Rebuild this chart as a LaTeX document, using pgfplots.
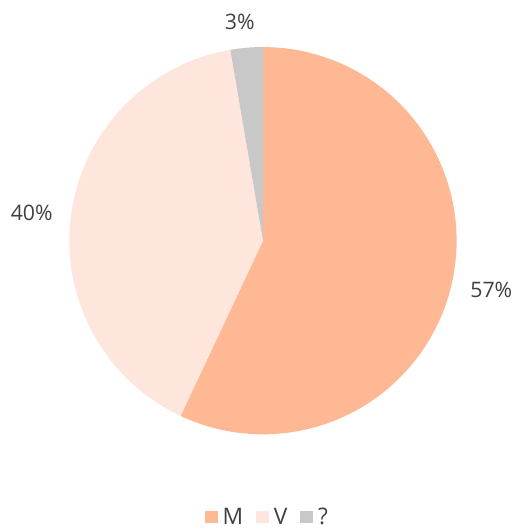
\documentclass[border=0pt]{standalone}
\usepackage{fontspec}
\setmainfont{Open Sans}
\usepackage{pgfplots}
\pgfplotsset{compat=1.18}
\definecolor{cM}{HTML}{FFB894}
\definecolor{cV}{HTML}{FFE6DC}
\definecolor{cQ}{HTML}{C8C8C8}
\definecolor{txt}{HTML}{404040}
\begin{document}
\begin{tikzpicture}
% shares in percent
\def\vM{57.0}\def\vV{40.3}\def\vQ{2.7}
\pgfmathsetmacro\aA{90}
\pgfmathsetmacro\aB{\aA-3.6*\vM}
\pgfmathsetmacro\aC{\aB-3.6*\vV}
\pgfmathsetmacro\aD{\aC-3.6*\vQ}
\begin{axis}[
  scale only axis, width=519pt, height=530pt,
  xmin=0, xmax=519, ymin=0, ymax=530,
  axis lines=none, clip=false,
  legend columns=3,
  legend style={at={(axis cs:270,8)}, anchor=center, draw=none, fill=none,
    font=\fontsize{23}{25}\selectfont, text=txt,
    /tikz/every even column/.append style={column sep=11pt}},
  legend image code/.code={\fill[#1] (0pt,-6.5pt) rectangle (13pt,6.5pt); \path (16pt,0pt);},
]
\path (rel axis cs:0,0) rectangle (rel axis cs:1,1);
\addplot[fill=cM, draw=none, domain=\aB:\aA, samples=120] ({265.5+195.5*cos(x)},{287+195.5*sin(x)}) -- (axis cs:265.5,287) -- cycle;
\addlegendentry{M}
\addplot[fill=cV, draw=none, domain=\aC:\aB, samples=100] ({265.5+195.5*cos(x)},{287+195.5*sin(x)}) -- (axis cs:265.5,287) -- cycle;
\addlegendentry{V}
\addplot[fill=cQ, draw=none, domain=\aD:\aC, samples=20] ({265.5+195.5*cos(x)},{287+195.5*sin(x)}) -- (axis cs:265.5,287) -- cycle;
\addlegendentry{?}
\node[text=txt, font=\fontsize{21.5}{23}\selectfont] at (axis cs:496,237) {57\%};
\node[text=txt, font=\fontsize{21.5}{23}\selectfont] at (axis cs:32,315) {40\%};
\node[text=txt, font=\fontsize{21.5}{23}\selectfont] at (axis cs:242,508) {3\%};
\end{axis}
\end{tikzpicture}
\end{document}
